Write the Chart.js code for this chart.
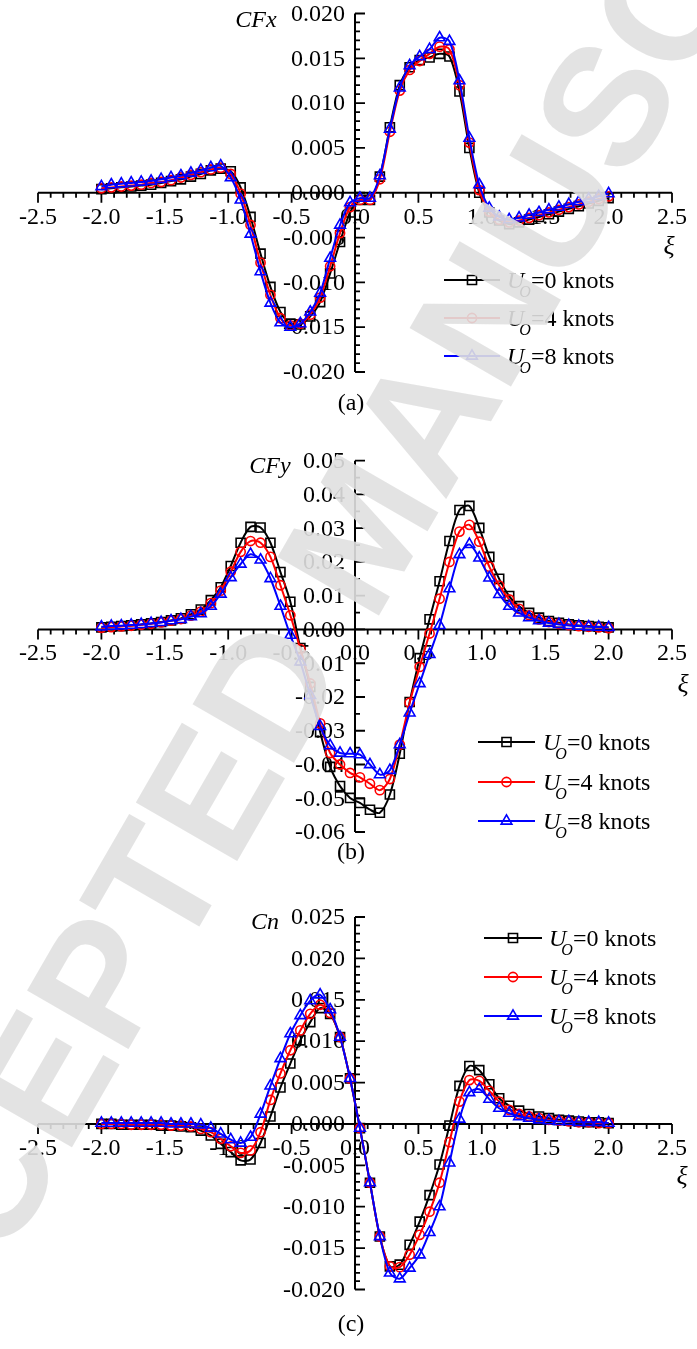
<!DOCTYPE html>
<html>
<head>
<meta charset="utf-8">
<script src="https://cdn.jsdelivr.net/npm/chart.js@4.4.0/dist/chart.umd.min.js"></script>
<style>
  html, body { margin: 0; padding: 0; background: #fff; }
  body { width: 697px; height: 1349px; position: relative; overflow: hidden; }
  canvas { position: absolute; left: 0; }
  #wm { top: 0; z-index: 5; pointer-events: none; }
</style>
</head>
<body>
<canvas id="chartA" width="697" height="430" style="top:0px"></canvas>
<canvas id="chartB" width="697" height="440" style="top:430px"></canvas>
<canvas id="chartC" width="697" height="479" style="top:870px"></canvas>
<canvas id="wm" width="697" height="1349"></canvas>
<script>
// non-dimensional position along the ship, xi
const xi = [-2.000,-1.922,-1.843,-1.765,-1.686,-1.608,-1.529,-1.451,-1.373,-1.294,-1.216,-1.137,-1.059,-0.980,-0.902,-0.824,-0.745,-0.667,-0.588,-0.510,-0.431,-0.353,-0.275,-0.196,-0.118,-0.039,
            0.039,0.118,0.196,0.275,0.353,0.431,0.510,0.588,0.667,0.745,0.824,0.902,0.980,1.059,1.137,1.216,1.294,1.373,1.451,1.529,1.608,1.686,1.765,1.843,1.922,2.000];

// (a) CFx
const cfx0 = [0.0004,0.0005,0.0006,0.0007,0.0008,0.0009,0.0011,0.0013,0.0015,0.0018,0.0021,0.0025,0.0027,0.0024,0.0006,-0.0027,-0.0068,-0.0105,-0.0133,-0.0146,-0.0147,-0.0138,-0.0122,-0.0090,-0.0055,-0.0022,
              -0.0008,-0.0008,0.0018,0.0073,0.0120,0.0140,0.0148,0.0151,0.0155,0.0152,0.0113,0.0050,0.0000,-0.0022,-0.0031,-0.0035,-0.0033,-0.0030,-0.0027,-0.0024,-0.0021,-0.0018,-0.0015,-0.0012,-0.0009,-0.0006];
const cfx4 = [0.0005,0.0006,0.0007,0.0008,0.0009,0.0011,0.0012,0.0014,0.0017,0.0020,0.0023,0.0026,0.0028,0.0021,-0.0001,-0.0036,-0.0078,-0.0114,-0.0140,-0.0148,-0.0146,-0.0136,-0.0117,-0.0082,-0.0045,-0.0016,
              -0.0008,-0.0008,0.0015,0.0068,0.0114,0.0137,0.0147,0.0155,0.0163,0.0160,0.0120,0.0056,0.0003,-0.0021,-0.0030,-0.0033,-0.0031,-0.0028,-0.0025,-0.0022,-0.0019,-0.0016,-0.0013,-0.0010,-0.0007,-0.0004];
const cfx8 = [0.0007,0.0009,0.0010,0.0011,0.0012,0.0013,0.0015,0.0017,0.0019,0.0022,0.0025,0.0028,0.0030,0.0017,-0.0008,-0.0046,-0.0088,-0.0123,-0.0145,-0.0150,-0.0146,-0.0133,-0.0112,-0.0073,-0.0036,-0.0011,
              -0.0006,-0.0006,0.0019,0.0071,0.0117,0.0142,0.0152,0.0160,0.0173,0.0169,0.0125,0.0061,0.0009,-0.0017,-0.0027,-0.0030,-0.0028,-0.0025,-0.0022,-0.0019,-0.0016,-0.0013,-0.0010,-0.0007,-0.0004,-0.0001];

// (b) CFy
const cfy0 = [0.0006,0.0008,0.0010,0.0012,0.0015,0.0018,0.0022,0.0027,0.0033,0.0045,0.0059,0.0087,0.0125,0.0188,0.0257,0.0304,0.0302,0.0257,0.0170,0.0082,-0.0055,-0.0170,-0.0304,-0.0407,-0.0464,-0.0499,
              -0.0514,-0.0534,-0.0543,-0.0489,-0.0368,-0.0215,-0.0085,0.0030,0.0143,0.0262,0.0354,0.0366,0.0301,0.0215,0.0150,0.0099,0.0069,0.0049,0.0035,0.0025,0.0020,0.0015,0.0012,0.0010,0.0008,0.0006];
const cfy4 = [0.0005,0.0007,0.0009,0.0011,0.0014,0.0017,0.0021,0.0026,0.0031,0.0041,0.0053,0.0078,0.0115,0.0171,0.0230,0.0262,0.0257,0.0215,0.0131,0.0042,-0.0058,-0.0160,-0.0278,-0.0366,-0.0400,-0.0425,
              -0.0438,-0.0457,-0.0476,-0.0443,-0.0341,-0.0217,-0.0111,-0.0012,0.0091,0.0200,0.0290,0.0310,0.0260,0.0186,0.0130,0.0089,0.0061,0.0042,0.0030,0.0022,0.0017,0.0013,0.0010,0.0008,0.0006,0.0004];
const cfy8 = [0.0008,0.0010,0.0011,0.0013,0.0015,0.0018,0.0021,0.0026,0.0030,0.0038,0.0047,0.0069,0.0105,0.0154,0.0194,0.0223,0.0206,0.0151,0.0069,-0.0017,-0.0096,-0.0195,-0.0287,-0.0344,-0.0366,-0.0368,
              -0.0371,-0.0400,-0.0430,-0.0417,-0.0341,-0.0247,-0.0160,-0.0074,0.0012,0.0121,0.0222,0.0252,0.0212,0.0153,0.0104,0.0069,0.0049,0.0035,0.0026,0.0019,0.0015,0.0012,0.0010,0.0008,0.0007,0.0006];

// (c) Cn
const cn0 = [0.0000,0.0000,-0.0001,-0.0001,-0.0001,-0.0001,-0.0002,-0.0002,-0.0003,-0.0004,-0.0008,-0.0014,-0.0024,-0.0034,-0.0044,-0.0043,-0.0023,0.0009,0.0044,0.0073,0.0101,0.0123,0.0140,0.0133,0.0105,0.0055,
             -0.0005,-0.0071,-0.0136,-0.0172,-0.0170,-0.0146,-0.0118,-0.0086,-0.0049,-0.0002,0.0046,0.0070,0.0065,0.0048,0.0031,0.0022,0.0016,0.0012,0.0009,0.0007,0.0005,0.0004,0.0003,0.0002,0.0002,0.0001];
const cn4 = [0.0000,0.0000,0.0000,-0.0001,-0.0001,-0.0001,-0.0001,-0.0002,-0.0002,-0.0003,-0.0006,-0.0010,-0.0018,-0.0027,-0.0035,-0.0032,-0.0010,0.0029,0.0061,0.0089,0.0113,0.0133,0.0144,0.0134,0.0105,0.0055,
             -0.0005,-0.0071,-0.0136,-0.0172,-0.0173,-0.0158,-0.0134,-0.0106,-0.0071,-0.0022,0.0027,0.0053,0.0052,0.0040,0.0027,0.0017,0.0012,0.0009,0.0007,0.0005,0.0004,0.0003,0.0002,0.0002,0.0001,0.0001];
const cn8 = [0.0001,0.0001,0.0001,0.0001,0.0001,0.0001,0.0001,0.0000,0.0000,0.0000,-0.0001,-0.0005,-0.0012,-0.0019,-0.0023,-0.0016,0.0012,0.0046,0.0079,0.0109,0.0131,0.0149,0.0156,0.0138,0.0105,0.0055,
             -0.0005,-0.0071,-0.0136,-0.0180,-0.0187,-0.0174,-0.0158,-0.0131,-0.0100,-0.0047,0.0006,0.0038,0.0042,0.0030,0.0019,0.0013,0.0009,0.0007,0.0005,0.0004,0.0003,0.0003,0.0002,0.0002,0.0002,0.0001];

// axis ticks
const xTickValues = [-2.5,-2.0,-1.5,-1.0,-0.5,0.0,0.5,1.0,1.5,2.0,2.5];
const xTickLabels = ['-2.5','-2.0','-1.5','-1.0','-0.5','0.0','0.5','1.0','1.5','2.0','2.5'];
const cfxTickValues = [0.020,0.015,0.010,0.005,0.000,-0.005,-0.010,-0.015,-0.020];
const cfxTickLabels = ['0.020','0.015','0.010','0.005','0.000','-0.005','-0.010','-0.015','-0.020'];
const cfyTickValues = [0.05,0.04,0.03,0.02,0.01,0.00,-0.01,-0.02,-0.03,-0.04,-0.05,-0.06];
const cfyTickLabels = ['0.05','0.04','0.03','0.02','0.01','0.00','-0.01','-0.02','-0.03','-0.04','-0.05','-0.06'];
const cnTickValues = [0.025,0.020,0.015,0.010,0.005,0.000,-0.005,-0.010,-0.015,-0.020];
const cnTickLabels = ['0.025','0.020','0.015','0.010','0.005','0.000','-0.005','-0.010','-0.015','-0.020'];

const seriesLabels = ['=0 knots', '=4 knots', '=8 knots'];
const seriesColors = ['#000000', '#ff0000', '#0000ff'];
const seriesStyles = ['rect', 'circle', 'triangle'];
const seriesRadius = [6.4, 4.6, 6.2];

const FONT = '"Liberation Serif", "Times New Roman", serif';

function drawMarker(ctx, style, x, y, r, color) {
  ctx.save();
  ctx.strokeStyle = color;
  ctx.lineWidth = 1.6;
  ctx.beginPath();
  if (style === 'rect') {
    const s = r * Math.SQRT1_2;
    ctx.rect(x - s, y - s, 2 * s, 2 * s);
  } else if (style === 'circle') {
    ctx.arc(x, y, r, 0, Math.PI * 2);
  } else {
    ctx.moveTo(x, y - r);
    ctx.lineTo(x + r * Math.sin(2 * Math.PI / 3), y - r * Math.cos(2 * Math.PI / 3));
    ctx.lineTo(x + r * Math.sin(4 * Math.PI / 3), y - r * Math.cos(4 * Math.PI / 3));
    ctx.closePath();
  }
  ctx.stroke();
  ctx.restore();
}

function makeDecor(p) {
  return {
    id: 'decor',
    beforeDatasetsDraw(chart) {
      const ctx = chart.ctx;
      const {x, y} = chart.scales;
      const x0 = x.getPixelForValue(0);
      const y0 = y.getPixelForValue(0);
      ctx.save();
      ctx.strokeStyle = '#000';
      ctx.fillStyle = '#000';
      ctx.lineWidth = 2;
      // axis lines through the origin
      ctx.beginPath();
      ctx.moveTo(x.getPixelForValue(-2.5), y0);
      ctx.lineTo(x.getPixelForValue(2.5), y0);
      ctx.moveTo(x0, y.getPixelForValue(p.yMax));
      ctx.lineTo(x0, y.getPixelForValue(p.yMin));
      ctx.stroke();

      // x ticks (minor every 0.1, pointing down)
      ctx.lineWidth = 1.8;
      ctx.beginPath();
      for (let i = -25; i <= 25; i++) {
        const px = x.getPixelForValue(i / 10);
        const len = (i % 5 === 0) ? 10 : 5;
        ctx.moveTo(px, y0);
        ctx.lineTo(px, y0 + len);
      }
      // y ticks (pointing right)
      const nMinor = Math.round((p.yMax - p.yMin) / p.yMinor);
      const perMajor = Math.round(p.yMajor / p.yMinor);
      for (let j = 0; j <= nMinor; j++) {
        const py = y.getPixelForValue(p.yMin + j * p.yMinor);
        const len = (j % perMajor === 0) ? 10 : 5;
        ctx.moveTo(x0, py);
        ctx.lineTo(x0 + len, py);
      }
      ctx.stroke();

      // tick labels
      ctx.font = '24px ' + FONT;
      ctx.textAlign = 'center';
      ctx.textBaseline = 'alphabetic';
      xTickValues.forEach((v, i) => {
        ctx.fillText(xTickLabels[i], x.getPixelForValue(v), y0 + 31);
      });
      ctx.textAlign = 'right';
      ctx.textBaseline = 'middle';
      p.yTicks.forEach((v, i) => {
        ctx.fillText(p.yLabels[i], x0 - 10, y.getPixelForValue(v) + 1);
      });
      ctx.restore();
    },
    afterDatasetsDraw(chart) {
      const ctx = chart.ctx;
      ctx.save();
      // axis titles
      ctx.fillStyle = '#000';
      ctx.font = 'italic 24px ' + FONT;
      ctx.textAlign = 'center';
      ctx.textBaseline = 'middle';
      ctx.fillText(p.title, p.titlePos[0], p.titlePos[1]);
      ctx.font = 'italic 26px ' + FONT;
      ctx.fillText('\u03BE', p.xiPos[0], p.xiPos[1]);
      // caption
      ctx.font = '24px ' + FONT;
      ctx.fillText(p.caption, p.capPos[0], p.capPos[1]);

      // legend
      const lg = p.legend;
      seriesLabels.forEach((lab, i) => {
        const ry = lg.rows[i];
        ctx.strokeStyle = seriesColors[i];
        ctx.lineWidth = 2;
        ctx.beginPath();
        ctx.moveTo(lg.x1, ry);
        ctx.lineTo(lg.x2, ry);
        ctx.stroke();
        drawMarker(ctx, seriesStyles[i], (lg.x1 + lg.x2) / 2, ry, seriesRadius[i], seriesColors[i]);
        ctx.fillStyle = '#000';
        ctx.textAlign = 'left';
        ctx.textBaseline = 'alphabetic';
        ctx.font = 'italic 24px ' + FONT;
        ctx.fillText('U', lg.tx, ry + 8);
        const uw = ctx.measureText('U').width;
        ctx.font = 'italic 16px ' + FONT;
        ctx.fillText('O', lg.tx + uw - 5, ry + 17);
        const ow = ctx.measureText('O').width;
        ctx.font = '24px ' + FONT;
        ctx.fillText(lab, lg.tx + uw - 5 + ow, ry + 8);
      });
      ctx.restore();
    }
  };
}

const panels = [
  {id: 'chartA', pad: {left: 38, right: 25, top: 13.5, bottom: 58},
   yMin: -0.02, yMax: 0.02, yMajor: 0.005, yMinor: 0.001, yTicks: cfxTickValues, yLabels: cfxTickLabels,
   title: 'CFx', titlePos: [256, 21], xiPos: [669, 247], caption: '(a)', capPos: [351, 404],
   legend: {x1: 444, x2: 500, tx: 507, rows: [280, 318, 356]}, values: [cfx0, cfx4, cfx8]},
  {id: 'chartB', pad: {left: 38, right: 25, top: 30.7, bottom: 38},
   yMin: -0.06, yMax: 0.05, yMajor: 0.01, yMinor: 0.005, yTicks: cfyTickValues, yLabels: cfyTickLabels,
   title: 'CFy', titlePos: [270, 37], xiPos: [683, 255], caption: '(b)', capPos: [351, 423],
   legend: {x1: 478, x2: 535, tx: 543, rows: [312, 352, 391]}, values: [cfy0, cfy4, cfy8]},
  {id: 'chartC', pad: {left: 38, right: 25, top: 47, bottom: 59.5},
   yMin: -0.02, yMax: 0.025, yMajor: 0.005, yMinor: 0.001, yTicks: cnTickValues, yLabels: cnTickLabels,
   title: 'Cn', titlePos: [265, 53], xiPos: [682, 307], caption: '(c)', capPos: [351, 455],
   legend: {x1: 484, x2: 542, tx: 549, rows: [68, 107, 146]}, values: [cn0, cn4, cn8]}
];

panels.forEach(p => {
  const datasets = p.values.map((vals, i) => ({
    label: 'U_O' + seriesLabels[i],
    data: vals.map((v, k) => ({x: xi[k], y: v})),
    borderColor: seriesColors[i],
    borderWidth: 2,
    pointStyle: seriesStyles[i],
    pointRadius: seriesRadius[i],
    pointBorderColor: seriesColors[i],
    pointBackgroundColor: 'rgba(0,0,0,0)',
    pointBorderWidth: 1.6,
    tension: 0.3,
    fill: false,
    order: 3 - i
  }));
  new Chart(document.getElementById(p.id), {
    type: 'line',
    data: {datasets},
    options: {
      responsive: false,
      animation: false,
      devicePixelRatio: 1,
      layout: {padding: p.pad},
      plugins: {legend: {display: false}, tooltip: {enabled: false}},
      scales: {
        x: {type: 'linear', min: -2.5, max: 2.5, display: false},
        y: {type: 'linear', min: p.yMin, max: p.yMax, display: false}
      }
    },
    plugins: [makeDecor(p)]
  });
});

// light diagonal "accepted manuscript" stamp lying over the page
const wm = document.getElementById('wm').getContext('2d');
wm.fillStyle = 'rgba(224,224,224,0.9)';
wm.font = 'bold 170px "Liberation Sans", Arial, sans-serif';
wm.textBaseline = 'alphabetic';
wm.translate(-118, 1476);
wm.rotate(-Math.PI / 3);
wm.fillText('ACCEPTED MANUSCRIPT', 0, 0);
</script>
</body>
</html>
